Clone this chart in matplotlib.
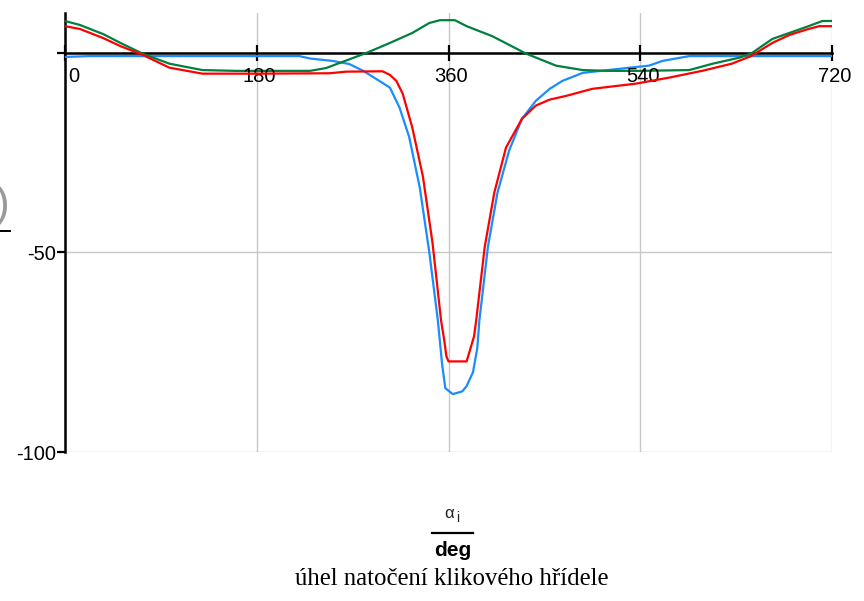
import matplotlib
matplotlib.use("Agg")
import matplotlib.pyplot as plt
import matplotlib.transforms as mtransforms
from matplotlib.lines import Line2D

# crank angle [deg] and traced quantities for the three curves
blue_angle = [0, 23, 180, 220, 230, 251, 267, 280, 292, 305, 314, 323, 333, 342, 350,
              354, 357, 364, 373, 377, 383, 387, 389, 397, 406, 417, 429, 442, 455,
              467, 486, 520, 530, 548, 561, 586, 720]
blue_value = [-1.0, -0.8, -0.8, -0.8, -1.4, -2.0, -2.8, -4.5, -6.5, -8.7, -13.7, -21.0,
              -33.7, -50.0, -67.0, -78.0, -84.0, -85.5, -84.8, -83.5, -80.0, -74.0,
              -67.0, -48.6, -35.0, -24.4, -16.5, -12.0, -9.0, -7.0, -5.0, -4.0, -3.7,
              -3.2, -2.0, -0.8, -0.8]

green_angle = [0, 14, 36, 52, 73, 98, 129, 160, 200, 230, 245, 258, 283, 305, 326, 342,
               352, 366, 377, 401, 433, 461, 486, 510, 540, 586, 608, 633, 645, 664,
               680, 698, 711, 720]
green_value = [8.0, 7.0, 4.7, 2.5, -0.2, -2.7, -4.3, -4.5, -4.5, -4.5, -3.8, -2.5, 0.0,
               2.5, 5.0, 7.5, 8.2, 8.2, 6.7, 4.2, -0.2, -3.2, -4.3, -4.5, -4.5, -4.3,
               -2.7, -1.2, 0.0, 3.5, 5.0, 6.7, 8.0, 8.0]

red_angle = [0, 14, 36, 52, 73, 98, 129, 180, 248, 264, 298, 305, 311, 317, 326, 336,
             345, 353, 356, 358, 360, 377, 384, 386, 394, 403, 414, 429, 442, 455, 470,
             495, 536, 567, 598, 626, 644, 664, 680, 698, 708, 720]
red_value = [6.7, 6.0, 3.7, 1.7, -0.5, -3.7, -5.2, -5.2, -5.1, -4.7, -4.6, -5.5, -7.0,
             -10.2, -18.7, -31.0, -47.6, -67.0, -72.0, -76.0, -77.3, -77.3, -71.0,
             -67.0, -48.6, -35.0, -23.7, -16.5, -13.2, -11.7, -10.8, -9.0, -7.7, -6.2,
             -4.5, -2.7, -0.8, 2.5, 4.5, 6.0, 6.7, 6.7]

x_ticks = [0, 180, 360, 540, 720]
x_tick_labels = ["0", "180", "360", "540", "720"]
y_ticks = [-100, -50, 0]
y_tick_labels = ["-100", "-50", ""]

W, H = 864, 601
fig = plt.figure(figsize=(W / 100, H / 100), dpi=100)
left, right, top, bottom = 65, 832, 13, 452
ax = fig.add_axes([left / W, 1 - bottom / H, (right - left) / W, (bottom - top) / H])

ax.set_xlim(0, 720)
ax.set_ylim(-100, 10)

ax.plot(blue_angle, blue_value, color="#1a8cff", lw=1.6, zorder=3)
ax.plot(green_angle, green_value, color="#00803f", lw=1.6, zorder=3)
ax.plot(red_angle, red_value, color="#ff0000", lw=1.6, zorder=4)

for s in ("top", "right"):
    ax.spines[s].set_visible(False)
ax.spines["bottom"].set_position(("data", 0))
ax.spines["bottom"].set_linewidth(1.8)
ax.spines["left"].set_linewidth(1.8)
ax.spines["bottom"].set_zorder(2)

ax.set_xticks(x_ticks)
ax.set_xticklabels([])
ax.tick_params(axis="x", direction="inout", length=11, width=1.6, color="black")
ax.set_yticks(y_ticks)
ax.set_yticklabels(y_tick_labels, fontfamily="Liberation Sans", fontsize=14.5)
ax.tick_params(axis="y", direction="out", length=6, width=1.6, pad=0.3)

ax.grid(True, color="#c8c8c8", lw=1.0, zorder=0)
ax.set_axisbelow(True)

# x tick labels sit just below the zero line
for xt, lab in zip(x_ticks, x_tick_labels):
    off = mtransforms.offset_copy(ax.transData, fig=fig, x=3, y=-14, units="dots")
    ax.text(xt, 0, lab, transform=off, ha="left" if xt == 0 else "center", va="top",
            fontfamily="Liberation Sans", fontsize=14.5)

# x axis label written as a fraction alpha_i / deg
def fx(px):
    return px / W

def fy(py):
    return 1 - py / H

fig.text(fx(449), fy(513), "α", ha="center", va="center", fontsize=12,
         fontfamily="Liberation Sans", color="#222222")
fig.text(fx(458), fy(518), "i", ha="center", va="center", fontsize=10,
         fontfamily="Liberation Sans", color="#222222")
fig.add_artist(Line2D([fx(432), fx(473)], [fy(533), fy(533)], color="black", lw=1.6))
fig.text(fx(453), fy(550), "deg", ha="center", va="center", fontsize=15,
         fontweight="bold", fontfamily="Liberation Sans")
fig.text(fx(452), fy(579), "úhel natočení klikového hřídele", ha="center", va="center",
         fontsize=17.8, fontfamily="Liberation Serif")

# y axis label, clipped at the left edge of the figure
fig.text(fx(9), fy(206), ")", ha="right", va="center", fontsize=32,
         fontfamily="Liberation Sans", color="#9a9a9a")
fig.add_artist(Line2D([fx(0), fx(10)], [fy(231), fy(231)], color="black", lw=1.4))

fig.savefig("out.png", dpi=100)
